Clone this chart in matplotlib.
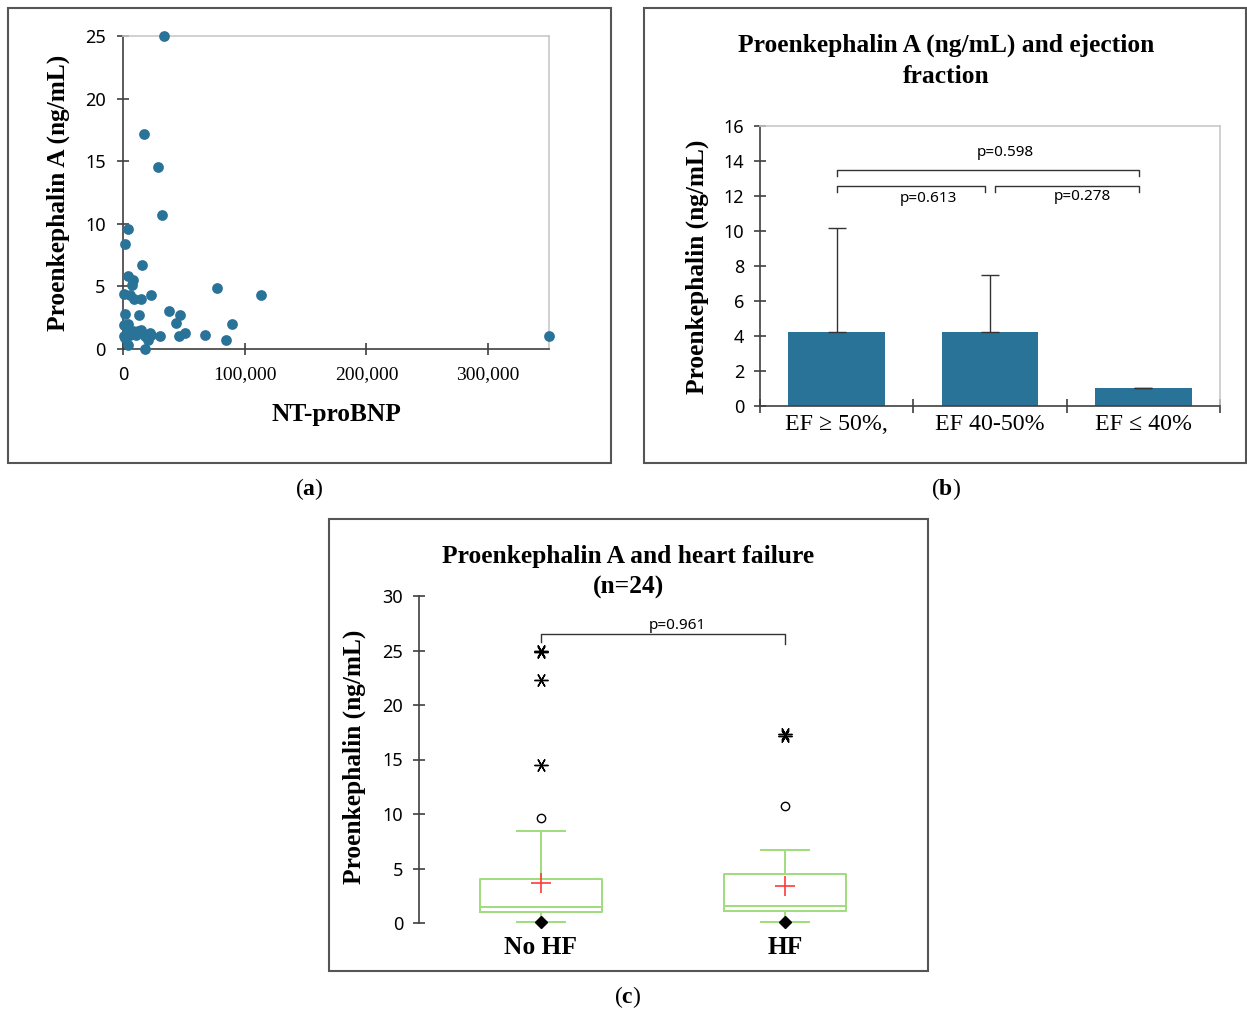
import matplotlib.pyplot as plt
from matplotlib.patches import Rectangle

# ============================
# Datos
# ============================

# (a) NT-proBNP vs Proenkephalin A
ntprobnp = [33400, 17300, 29100, 32000, 3900, 1600, 15900, 3900, 8200, 7100,
            600, 5500, 9000, 14500, 23000, 77200, 113400, 1600, 13100, 37500,
            46800, 43300, 89500, 4400, 3900, 600, 8200, 15100, 21900, 23300,
            30200, 5500, 11000, 17800, 20500, 45800, 51300, 67700, 85000, 3900,
            18400, 350000, 2000, 6500, 12000, 1000]
penk_a = [25.0, 17.2, 14.5, 10.7, 9.6, 8.4, 6.7, 5.8, 5.5, 5.1,
          4.4, 4.3, 4.0, 4.0, 4.3, 4.9, 4.3, 2.8, 2.7, 3.0,
          2.7, 2.1, 2.0, 2.0, 1.5, 1.0, 1.4, 1.5, 1.3, 1.1,
          1.0, 1.1, 1.1, 1.0, 0.7, 1.0, 1.3, 1.1, 0.7, 0.3,
          0.0, 1.0, 0.9, 1.3, 1.4, 1.9]
x_ticks_a = [0, 100000, 200000, 300000]
x_labels_a = ["0", "100,000", "200,000", "300,000"]

# (b) Fraccion de eyeccion
ef_groups = ["EF \u2265 50%,", "EF 40-50%", "EF \u2264 40%"]
ef_means = [4.25, 4.25, 1.05]
ef_err_up = [5.95, 3.25, 0.0]
ef_pvals = ["p=0.598", "p=0.613", "p=0.278"]
ef_br_x1 = [0.0, 0.0, 1.03]
ef_br_x2 = [1.97, 0.97, 1.97]
ef_br_y = [13.5, 12.55, 12.55]
ef_txt_x = [1.1, 0.6, 1.6]
ef_txt_y = [14.5, 11.85, 12.0]

# (c) Insuficiencia cardiaca (box plot)
hf_groups = ["No HF", "HF"]
hf_q1 = [1.05, 1.1]
hf_med = [1.45, 1.55]
hf_q3 = [4.05, 4.5]
hf_whislo = [0.1, 0.1]
hf_whishi = [8.45, 6.7]
hf_mean = [3.65, 3.4]
hf_min = [0.1, 0.1]
hf_mild = [[9.6], [10.75]]
hf_extreme = [[25.0, 24.9, 22.3, 14.5], [17.3, 17.2]]

col_blue = "#2a7398"
col_green = "#9fdc7c"
sans = "Noto Sans"

plt.rcParams['font.family'] = 'Liberation Serif'
plt.rcParams['mathtext.fontset'] = 'custom'
plt.rcParams['mathtext.rm'] = 'Liberation Serif'
plt.rcParams['mathtext.bf'] = 'Liberation Serif:bold'

W, H = 1247, 1014
fig = plt.figure(figsize=(W / 100, H / 100), dpi=100)


def box(l, t, r, b):
    # de pixeles a fraccion de figura
    return [l / W, 1 - b / H, (r - l) / W, (b - t) / H]


def style_spines(ax, light=True):
    for s in ["left", "bottom"]:
        ax.spines[s].set_color("#404040")
        ax.spines[s].set_linewidth(1.2)
    for s in ["top", "right"]:
        if light:
            ax.spines[s].set_color("#c8c8c8")
            ax.spines[s].set_linewidth(1.2)
        else:
            ax.spines[s].set_visible(False)


# marcos de cada panel
for l, t, r, b in [(8, 8, 611, 463), (644, 8, 1246, 463), (329, 519, 928, 971)]:
    fig.patches.append(Rectangle((l / W, 1 - b / H), (r - l) / W, (b - t) / H,
                                 transform=fig.transFigure, fill=False,
                                 edgecolor="#555555", linewidth=1.5))

# ============================
# (a) Scatter
# ============================
ax1 = fig.add_axes(box(123, 36, 549, 349))
ax1.scatter(ntprobnp, penk_a, s=60, color=col_blue, linewidths=0,
            clip_on=False, zorder=3)
ax1.set_xlim(0, 350000)
ax1.set_ylim(0, 25)
ax1.set_xticks(x_ticks_a)
ax1.set_xticklabels(x_labels_a, fontsize=14)
ax1.get_xticklabels()[0].set_fontfamily(sans)
ax1.get_xticklabels()[0].set_fontsize(13)
ax1.set_yticks(range(0, 26, 5))
ax1.set_yticklabels([str(v) for v in range(0, 26, 5)], fontfamily=sans, fontsize=13)
ax1.tick_params(axis="both", direction="inout", length=9, width=1.2, color="#404040")
ax1.tick_params(axis="x", pad=8)
ax1.tick_params(axis="y", pad=8)
style_spines(ax1)
fig.text(58 / W, 1 - 193 / H, "Proenkephalin A (ng/mL)", rotation=90,
         ha="center", va="center", fontsize=18.3, fontweight="bold")
fig.text(336 / W, 1 - 415 / H, "NT-proBNP", ha="center", va="center",
         fontsize=18.3, fontweight="bold")

# ============================
# (b) Barras
# ============================
ax2 = fig.add_axes(box(760, 126, 1220, 406))
pos = range(len(ef_groups))
ax2.bar(pos, ef_means, width=0.63, color=col_blue, zorder=2)
ax2.errorbar(pos, ef_means, yerr=[[0] * len(ef_means), ef_err_up], fmt="none",
             ecolor="#333333", elinewidth=1, capsize=6.5, capthick=1, zorder=3)
ax2.set_xlim(-0.5, 2.5)
ax2.set_ylim(0, 16)
ax2.set_xticks(list(pos))
ax2.set_xticklabels(ef_groups, fontsize=17.2)
ax2.set_xticks([-0.5, 0.5, 1.5, 2.5], minor=True)
ax2.tick_params(axis="x", which="major", length=0, pad=6)
ax2.tick_params(axis="x", which="minor", direction="inout", length=10,
                width=1.2, color="#404040")
ax2.set_yticks(range(0, 17, 2))
ax2.set_yticklabels([str(v) for v in range(0, 17, 2)], fontfamily=sans, fontsize=13)
ax2.tick_params(axis="y", direction="inout", length=9, width=1.2,
                color="#404040", pad=7)
style_spines(ax2)

for i in range(len(ef_pvals)):
    x1, x2, y = ef_br_x1[i], ef_br_x2[i], ef_br_y[i]
    ax2.plot([x1, x1, x2, x2], [y - 0.35, y, y, y - 0.35], color="#333333", lw=1)
    ax2.text(ef_txt_x[i], ef_txt_y[i], ef_pvals[i], ha="center", va="center",
             fontfamily=sans, fontsize=11)

fig.text(946 / W, 1 - 61 / H, "Proenkephalin A (ng/mL) and ejection\nfraction",
         ha="center", va="center", fontsize=18.4, fontweight="bold", linespacing=1.45)
fig.text(697 / W, 1 - 267 / H, "Proenkephalin (ng/mL)", rotation=90,
         ha="center", va="center", fontsize=18.3, fontweight="bold")

# ============================
# (c) Box plot
# ============================
ax3 = fig.add_axes(box(419, 596, 907, 923))
stats = []
for i in range(len(hf_groups)):
    stats.append({"med": hf_med[i], "q1": hf_q1[i], "q3": hf_q3[i],
                  "whislo": hf_whislo[i], "whishi": hf_whishi[i],
                  "mean": hf_mean[i], "fliers": []})
gp = dict(color=col_green, linewidth=1.4)
ax3.bxp(stats, positions=[0, 1], widths=0.5, capwidths=0.2, showmeans=True,
        boxprops=gp, whiskerprops=gp, capprops=gp, medianprops=gp,
        meanprops=dict(marker="+", markeredgecolor="#ff3b3b", markersize=14,
                       markeredgewidth=1.2))
for i in range(len(hf_groups)):
    ax3.plot([i] * len(hf_mild[i]), hf_mild[i], "o", mfc="white", mec="black",
             ms=6, mew=1)
    ax3.plot([i] * len(hf_extreme[i]), hf_extreme[i], marker=(6, 2, 30),
             ls="none", color="black", ms=10, mew=1.0)
    ax3.plot([i], [hf_min[i]], "D", color="black", ms=6, clip_on=False, zorder=4)

ax3.plot([0, 0, 1, 1], [25.8, 26.5, 26.5, 25.6], color="#333333", lw=1)
ax3.text(0.56, 27.3, "p=0.961", ha="center", va="center", fontfamily=sans, fontsize=11)

ax3.set_xlim(-0.5, 1.5)
ax3.set_ylim(0, 30)
ax3.set_xticks([0, 1])
ax3.set_xticklabels(hf_groups, fontsize=18.4, fontweight="bold")
ax3.tick_params(axis="x", length=0, pad=9)
ax3.set_yticks(range(0, 31, 5))
ax3.set_yticklabels([str(v) for v in range(0, 31, 5)], fontfamily=sans, fontsize=13)
ax3.tick_params(axis="y", direction="inout", length=9, width=1.2,
                color="#404040", pad=7)
for s in ["top", "right", "bottom"]:
    ax3.spines[s].set_visible(False)
ax3.spines["left"].set_color("#404040")
ax3.spines["left"].set_linewidth(1.2)

fig.text(628 / W, 1 - 572 / H, "Proenkephalin A and heart failure\n(n=24)",
         ha="center", va="center", fontsize=18.4, fontweight="bold", linespacing=1.4)
fig.text(354 / W, 1 - 757 / H, "Proenkephalin (ng/mL)", rotation=90,
         ha="center", va="center", fontsize=18.3, fontweight="bold")

# etiquetas de panel
for px, py, lab in [(309, 489, "a"), (946, 489, "b"), (628, 997, "c")]:
    fig.text(px / W, 1 - py / H, "($\\mathbf{" + lab + "}$)", ha="center",
             va="center", fontsize=17)

plt.savefig("out.png", dpi=100)
